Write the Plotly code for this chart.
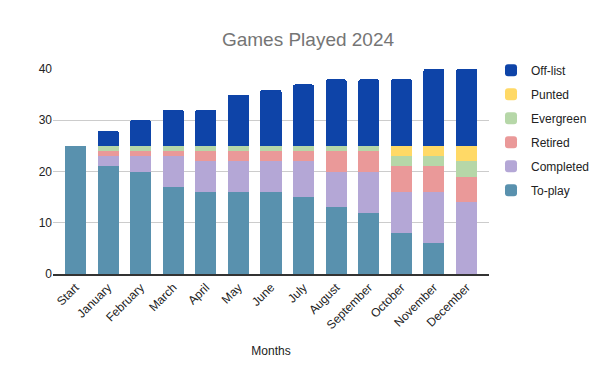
import plotly.graph_objects as go

months = ["Start", "January", "February", "March", "April", "May", "June",
          "July", "August", "September", "October", "November", "December"]

to_play   = [25, 21, 20, 17, 16, 16, 16, 15, 13, 12, 8, 6, 0]
completed = [0, 2, 3, 6, 6, 6, 6, 7, 7, 8, 8, 10, 14]
retired   = [0, 1, 1, 1, 2, 2, 2, 2, 4, 4, 5, 5, 5]
evergreen = [0, 1, 1, 1, 1, 1, 1, 1, 1, 1, 2, 2, 3]
punted    = [0, 0, 0, 0, 0, 0, 0, 0, 0, 0, 2, 2, 3]
off_list  = [0, 3, 5, 7, 7, 10, 11, 12, 13, 13, 13, 15, 15]

series = [
    ("To-play", to_play, "#5991ae"),
    ("Completed", completed, "#b4a7d6"),
    ("Retired", retired, "#ea9999"),
    ("Evergreen", evergreen, "#b6d7a8"),
    ("Punted", punted, "#ffd966"),
    ("Off-list", off_list, "#0e44a8"),
]

fig = go.Figure()
for i, (name, vals, color) in enumerate(series):
    fig.add_trace(go.Bar(x=months, y=vals, name=name, marker_color=color,
                         marker_line_width=0, legendgroup=name,
                         legendrank=1000 - i))

fig.update_layout(
    width=600, height=371,
    barmode="stack",
    bargap=0.355,
    barcornerradius=2,
    plot_bgcolor="white", paper_bgcolor="white",
    font=dict(family="Liberation Sans, Arial, sans-serif", size=12, color="#222222"),
    title=dict(text="Games Played 2024", xref="container", x=0.5, xanchor="center",
               yref="container", y=0.915, yanchor="middle",
               font=dict(size=19, color="#757575")),
    margin=dict(l=45, r=119, t=61, b=105, autoexpand=False),
    legend=dict(traceorder="grouped", x=1.0046, xanchor="left", y=1.065, yanchor="top",
                font=dict(size=12, color="#222222"), itemwidth=30, tracegroupgap=5),
    xaxis=dict(range=[-0.69, 12.69], tickangle=-45, showgrid=False,
               showline=True, linecolor="#333333", linewidth=1.5, ticks="",
               title=dict(text="Months", font=dict(size=12, color="#222222"), standoff=16),
               tickfont=dict(size=12, color="#222222")),
    yaxis=dict(range=[0, 40], dtick=10, showgrid=True, gridcolor="#cccccc",
               zeroline=False, ticks="", tickfont=dict(size=12, color="#222222")),
)

fig.write_html("out.html")
